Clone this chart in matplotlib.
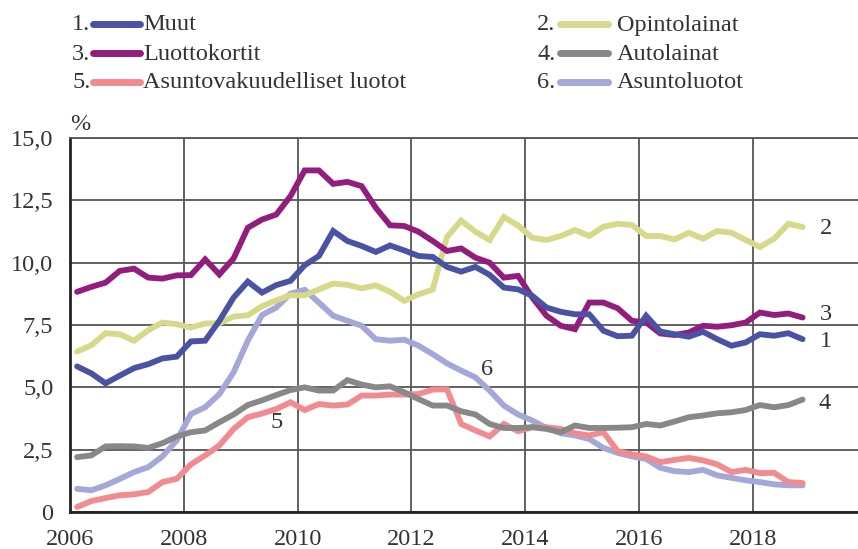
import matplotlib
matplotlib.use("Agg")
import matplotlib.pyplot as plt
from matplotlib.lines import Line2D
import numpy as np

plt.rcParams['font.family'] = ['Liberation Serif', 'DejaVu Serif']

# Quarterly data 2006Q1 .. 2018Q4
years = 2006.125 + 0.25 * np.arange(52)

muut = [5.84, 5.56, 5.16, 5.47, 5.77, 5.93, 6.16, 6.23, 6.84, 6.87,
        7.67, 8.60, 9.24, 8.80, 9.10, 9.27, 9.90, 10.27, 11.27, 10.87,
        10.67, 10.43, 10.69, 10.49, 10.27, 10.23, 9.83, 9.64, 9.83, 9.51,
        9.00, 8.93, 8.67, 8.20, 8.03, 7.93, 7.93, 7.27, 7.05, 7.07,
        7.87, 7.24, 7.13, 7.03, 7.23, 6.93, 6.67, 6.80, 7.13, 7.07,
        7.17, 6.93]
opinto = [6.43, 6.69, 7.17, 7.13, 6.87, 7.29, 7.60, 7.53, 7.40, 7.56,
          7.57, 7.84, 7.89, 8.25, 8.49, 8.69, 8.69, 8.93, 9.16, 9.11,
          8.97, 9.09, 8.83, 8.47, 8.73, 8.92, 11.03, 11.69, 11.24, 10.91,
          11.83, 11.49, 11.00, 10.91, 11.07, 11.31, 11.07, 11.44, 11.56, 11.51,
          11.07, 11.07, 10.93, 11.20, 10.96, 11.27, 11.20, 10.91, 10.63, 10.96,
          11.56, 11.43]
luotto = [8.83, 9.03, 9.20, 9.67, 9.76, 9.40, 9.36, 9.49, 9.50, 10.13,
          9.53, 10.17, 11.40, 11.73, 11.93, 12.67, 13.70, 13.70, 13.16, 13.24,
          13.07, 12.20, 11.50, 11.47, 11.24, 10.87, 10.47, 10.57, 10.20, 10.00,
          9.40, 9.47, 8.60, 7.87, 7.47, 7.33, 8.40, 8.40, 8.17, 7.67,
          7.60, 7.16, 7.10, 7.20, 7.47, 7.43, 7.49, 7.60, 8.00, 7.90,
          7.96, 7.80]
auto = [2.20, 2.27, 2.63, 2.64, 2.63, 2.57, 2.76, 3.03, 3.20, 3.27,
        3.60, 3.91, 4.29, 4.48, 4.69, 4.89, 5.00, 4.87, 4.87, 5.29,
        5.11, 5.00, 5.04, 4.80, 4.53, 4.27, 4.27, 4.04, 3.91, 3.53,
        3.37, 3.37, 3.40, 3.33, 3.20, 3.47, 3.37, 3.37, 3.38, 3.40,
        3.53, 3.47, 3.63, 3.80, 3.87, 3.96, 4.00, 4.09, 4.29, 4.20,
        4.29, 4.51]
asvak = [0.20, 0.44, 0.56, 0.67, 0.71, 0.80, 1.20, 1.33, 1.91, 2.27,
         2.67, 3.33, 3.80, 3.95, 4.13, 4.40, 4.09, 4.33, 4.27, 4.31,
         4.67, 4.67, 4.71, 4.71, 4.73, 4.91, 4.92, 3.53, 3.27, 3.03,
         3.53, 3.24, 3.40, 3.40, 3.33, 3.16, 3.07, 3.20, 2.44, 2.31,
         2.23, 2.00, 2.09, 2.17, 2.07, 1.91, 1.60, 1.69, 1.56, 1.57,
         1.20, 1.16]
asunto = [0.93, 0.87, 1.07, 1.33, 1.60, 1.80, 2.23, 2.87, 3.93, 4.20,
          4.73, 5.60, 6.87, 7.90, 8.20, 8.76, 8.91, 8.40, 7.87, 7.67,
          7.47, 6.93, 6.87, 6.91, 6.67, 6.33, 5.96, 5.67, 5.40, 4.87,
          4.27, 3.91, 3.67, 3.37, 3.16, 3.07, 2.93, 2.57, 2.37, 2.23,
          2.13, 1.77, 1.64, 1.60, 1.69, 1.47, 1.37, 1.27, 1.20, 1.11,
          1.07, 1.07]

names = ["Muut", "Opintolainat", "Luottokortit", "Autolainat",
         "Asuntovakuudelliset luotot", "Asuntoluotot"]
colors = ["#4a53a3", "#d6d98a", "#931c7f", "#888888", "#f28b90", "#a3a8d8"]
series = [muut, opinto, luotto, auto, asvak, asunto]

yticks = [0, 2.5, 5, 7.5, 10, 12.5, 15]
ytick_labels = ["0", "2,5", "5,0", "7,5", "10,0", "12,5", "15,0"]
xticks = [2006, 2008, 2010, 2012, 2014, 2016, 2018]

W, H = 858, 549
fig = plt.figure(figsize=(W / 100, H / 100), dpi=100)
ax = fig.add_axes([70 / W, 1 - 512 / H, 1 - 70 / W, (512 - 138) / H])

txtc = "#333333"
fs = 17.5
lw = 4.2

order = [5, 4, 3, 1, 2, 0]
for k in order:
    ax.plot(years, series[k], color=colors[k], lw=lw, solid_capstyle='round',
            solid_joinstyle='miter', zorder=3 + (order.index(k)) * 0.1)

ax.set_xlim(2006, 2006 + (858 - 70) / 56.9)
ax.set_ylim(0, 15)
ax.set_xticks(xticks)
ax.set_xticklabels([str(x) for x in xticks])
ax.set_yticks(yticks)
ax.set_yticklabels(ytick_labels)
ax.tick_params(length=0, labelsize=fs, colors=txtc)
ax.tick_params(axis='y', pad=12)
ax.tick_params(axis='x', pad=12)
ax.grid(True, color="#555555", lw=1.3, zorder=1)
ax.spines["right"].set_visible(False)
ax.spines["top"].set_color("#555555")
ax.spines["top"].set_linewidth(1.3)
ax.spines["left"].set_color("#222222")
ax.spines["left"].set_linewidth(2)
ax.spines["bottom"].set_color("#222222")
ax.spines["bottom"].set_linewidth(2)

# percent sign
fig.text(80 / W, 1 - 124 / H, "%", fontsize=fs, color=txtc, ha='center', va='center')

# series labels in chart
lab = dict(fontsize=fs, color=txtc, ha='left', va='center', zorder=6)
ax.text(2019.18, 11.39, "2", **lab)
ax.text(2019.18, 7.92, "3", **lab)
ax.text(2019.18, 6.85, "1", **lab)
ax.text(2019.15, 4.35, "4", **lab)
ax.text(2009.52, 3.6, "5", **lab)
ax.text(2013.22, 5.7, "6", **lab)

# legend (manual)
rows = [25, 54, 83]
cols = [(72, 93, 140, 143), (537, 560, 608, 617)]
for idx in range(6):
    r = idx // 2
    c = idx % 2
    nx, l0, l1, tx = cols[c]
    y = 1 - rows[r] / H
    fig.text(nx / W, y, f"{idx + 1}.", fontsize=fs, color=txtc, ha='left', va='center')
    fig.add_artist(Line2D([l0 / W, l1 / W], [y + 0.002, y + 0.002], color=colors[idx],
                          lw=5, solid_capstyle='round', transform=fig.transFigure))
    fig.text(tx / W, y, names[idx], fontsize=fs, color=txtc, ha='left', va='center')

fig.savefig("out.png", dpi=100)
